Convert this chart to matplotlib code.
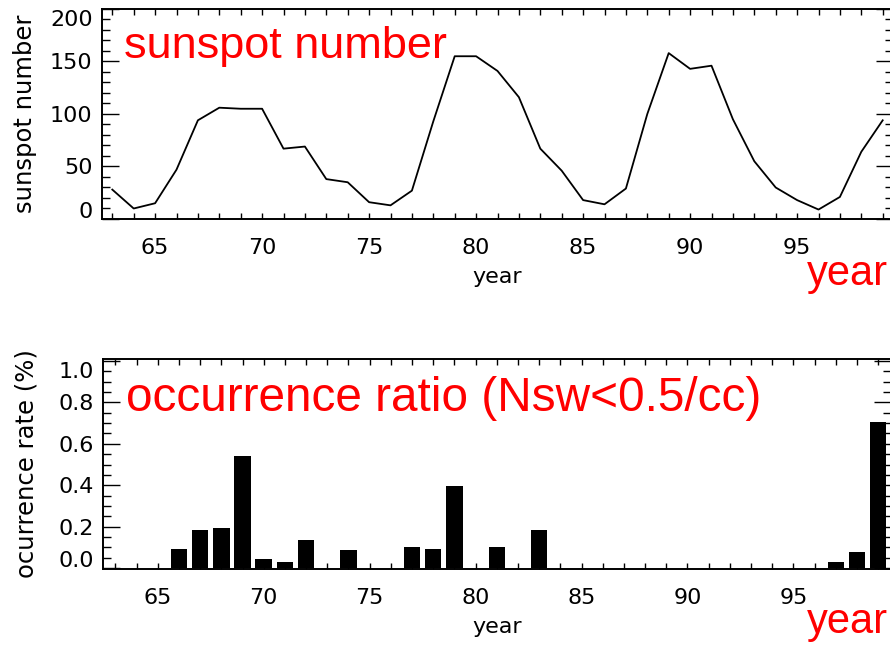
import matplotlib
matplotlib.use("Agg")
import matplotlib.pyplot as plt
from matplotlib.ticker import MultipleLocator
from matplotlib.transforms import ScaledTranslation

# yearly sunspot number, 1963-1999
years = list(range(63, 100))
sunspots = [28, 10, 15, 47, 94, 106, 105, 105, 67, 69, 38, 35, 16, 13, 27,
            93, 155, 155, 141, 116, 67, 46, 18, 14, 29, 100, 158, 143, 146,
            95, 55, 30, 18, 9, 21, 64, 94]

# years with low density solar wind (Nsw < 0.5/cc) and their occurrence rate
bar_years = [66, 67, 68, 69, 70, 71, 72, 74, 77, 78, 79, 81, 83, 97, 98, 99]
bar_rates = [0.093, 0.182, 0.195, 0.540, 0.045, 0.027, 0.134, 0.089, 0.100,
             0.092, 0.395, 0.101, 0.184, 0.029, 0.077, 0.707]

plt.rcParams['font.family'] = 'DejaVu Sans'
plt.rcParams['xtick.labelsize'] = 16
plt.rcParams['ytick.labelsize'] = 16

fig = plt.figure(figsize=(8.9, 6.45), dpi=100)
ax1 = fig.add_axes([0.11416, 0.66047, 0.88966, 0.32558])
ax2 = fig.add_axes([0.11539, 0.11783, 0.88562, 0.32558])


def style_axes(ax, ymajor, yminor):
    for s in ax.spines.values():
        s.set_linewidth(1.4)
    ax.xaxis.set_major_locator(MultipleLocator(5))
    ax.xaxis.set_minor_locator(MultipleLocator(1))
    ax.yaxis.set_major_locator(MultipleLocator(ymajor))
    ax.yaxis.set_minor_locator(MultipleLocator(yminor))
    ax.tick_params(axis='x', which='both', direction='in', top=True,
                   length=4, width=1.0, pad=14)
    ax.tick_params(axis='y', which='major', direction='in', right=True,
                   length=12, width=1.0, pad=6.5)
    ax.tick_params(axis='y', which='minor', direction='in', right=True,
                   length=5.5, width=1.0)
    ax.set_xlabel("year", fontsize=16, va='center')
    ax.xaxis.set_label_coords(0.5, -0.275)


def nudge_end_labels(ax, shift=6.5):
    # pull the bottom and top y labels inside the frame
    ticks = ax.yaxis.get_major_ticks()
    off_up = ScaledTranslation(0, shift / 72, fig.dpi_scale_trans)
    off_dn = ScaledTranslation(0, -shift / 72, fig.dpi_scale_trans)
    ticks[0].label1.set_transform(ticks[0].label1.get_transform() + off_up)
    ticks[-1].label1.set_transform(ticks[-1].label1.get_transform() + off_dn)


# sunspot number
ax1.plot(years, sunspots, color='black', lw=1.3)
ax1.set_xlim(62.5, 99.5)
ax1.set_ylim(0, 200)
style_axes(ax1, 50, 10)
ax1.set_yticks([0, 50, 100, 150, 200])
ax1.set_ylabel("sunspot number", fontsize=17.5, ha='center', va='center')
ax1.yaxis.set_label_coords(-0.097, 0.5)
nudge_end_labels(ax1)

# occurrence rate of low density events
ax2.bar(bar_years, bar_rates, width=0.78, color='black')
ax2.set_xlim(62.4, 99.6)
ax2.set_ylim(-0.005, 1.01)
style_axes(ax2, 0.2, 0.05)
ax2.set_yticks([0.0, 0.2, 0.4, 0.6, 0.8, 1.0])
ax2.set_yticklabels(["0.0", "0.2", "0.4", "0.6", "0.8", "1.0"])
ax2.set_ylabel("ocurrence rate (%)", fontsize=17.5, ha='center', va='center')
ax2.yaxis.set_label_coords(-0.097, 0.5)
nudge_end_labels(ax2)

red = dict(color='red', family='Liberation Sans', va='baseline', ha='left')
fig.text(124 / 890, 1 - 58 / 645, "sunspot number", fontsize=32.5, **red)
fig.text(126 / 890, 1 - 410.7 / 645, "occurrence ratio (Nsw<0.5/cc)",
         fontsize=34.4, **red)
fig.text(806.7 / 890, 1 - 285 / 645, "year", fontsize=30, **red)
fig.text(806.7 / 890, 1 - 633.3 / 645, "year", fontsize=30, **red)

fig.savefig("out.png", dpi=100)
